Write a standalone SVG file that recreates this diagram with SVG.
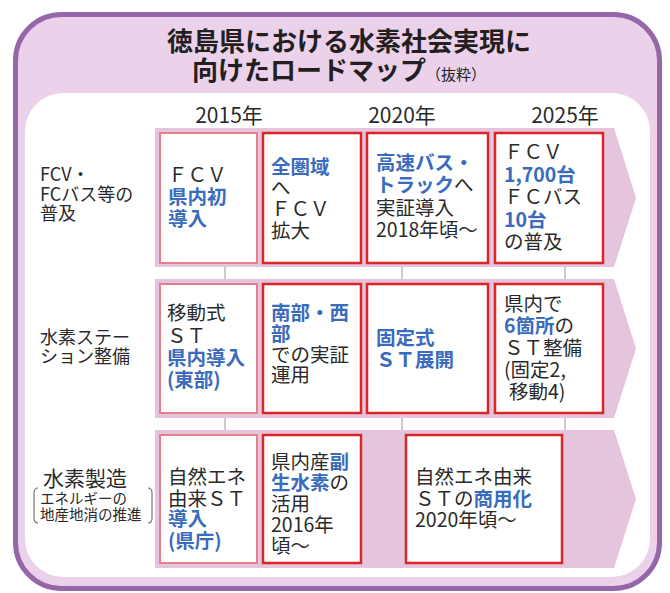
<svg xmlns="http://www.w3.org/2000/svg" width="670" height="593" viewBox="0 0 670 593">
<style>
text{font-family:"Noto Sans CJK JP","Noto Sans",sans-serif;}
.title{font-size:26px;font-weight:700;fill:#231f20;}
.yr{font-size:21px;fill:#2a2a2a;}
.lbl{font-size:18px;fill:#2a2a2a;}
.t{font-size:19.5px;fill:#2a2a2a;}
.b{fill:#3a6bbd;font-weight:700;}
.band{fill:#e5c5de;}
.box1{fill:#fff;stroke:#e6808a;stroke-width:2;}
.box{fill:#fff;stroke:#dc2626;stroke-width:2.5;}
.conn{stroke:#a9a9a9;stroke-width:1.2;}
</style>
<rect x="15.5" y="14.5" width="644" height="574" rx="46" fill="#ebd1e9" stroke="#9567a9" stroke-width="5"/>
<rect x="25" y="93" width="625" height="484" rx="38" fill="#ffffff"/>
<g id="title">
<text class="title" x="349" y="51" text-anchor="middle">徳島県における水素社会実現に</text>
<text class="title" x="192" y="80">向けたロードマップ<tspan font-size="15" font-weight="400">（抜粋）</tspan></text>
</g>
<g id="years">
<text class="yr" x="229" y="123" text-anchor="middle">2015年</text>
<text class="yr" x="402" y="123" text-anchor="middle">2020年</text>
<text class="yr" x="565" y="123" text-anchor="middle">2025年</text>
</g>
<g id="bands">
<polygon class="band" points="155,128 614,128 636,198 614,267 155,267"/>
<polygon class="band" points="155,279 614,279 636,348.5 614,418 155,418"/>
<polygon class="band" points="155,430 614,430 636,499 614,568 155,568"/>
</g>
<g id="connectors">
<line class="conn" x1="225" y1="267" x2="225" y2="279"/>
<line class="conn" x1="402" y1="267" x2="402" y2="279"/>
<line class="conn" x1="565" y1="267" x2="565" y2="279"/>
<line class="conn" x1="225" y1="418" x2="225" y2="430"/>
<line class="conn" x1="402" y1="418" x2="402" y2="430"/>
<line class="conn" x1="565" y1="418" x2="565" y2="430"/>
</g>
<g id="label-fcv">
<text class="lbl" x="40" y="181">FCV・</text>
<text class="lbl" x="40" y="201">FCバス等の</text>
<text class="lbl" x="40" y="220">普及</text>
</g>
<g id="label-st">
<text class="lbl" x="40" y="344">水素ステー</text>
<text class="lbl" x="40" y="362.5">ション整備</text>
</g>
<g id="label-prod">
<text x="43" y="486" font-size="21" fill="#2a2a2a">水素製造</text>
<text x="40" y="504" font-size="14.5" fill="#2a2a2a">エネルギーの</text>
<text x="40" y="520" font-size="14.5" fill="#2a2a2a">地産地消の推進</text>
<path d="M38,488 Q34,488 34,493 L34,518 Q34,523 38,523" fill="none" stroke="#777" stroke-width="1.2"/>
<path d="M148,488 Q152,488 152,493 L152,518 Q152,523 148,523" fill="none" stroke="#777" stroke-width="1.2"/>
</g>
<g id="r1c1">
<rect class="box1" x="160" y="133" width="97" height="130"/>
<text class="t" x="168" y="182">ＦＣＶ</text>
<text class="t b" x="168" y="204">県内初</text>
<text class="t b" x="168" y="226">導入</text>
</g>
<g id="r1c2">
<rect class="box" x="263" y="133" width="98" height="130"/>
<text class="t b" x="271" y="174">全圏域</text>
<text class="t" x="271" y="195">へ</text>
<text class="t" x="271" y="216">ＦＣＶ</text>
<text class="t" x="271" y="238">拡大</text>
</g>
<g id="r1c3">
<rect class="box" x="367" y="133" width="121" height="130"/>
<text class="t b" x="376" y="170">高速バス・</text>
<text class="t" x="376" y="192"><tspan class="b">トラック</tspan>へ</text>
<text class="t" x="376" y="215">実証導入</text>
<text class="t" x="376" y="237">2018年頃〜</text>
</g>
<g id="r1c4">
<rect class="box" x="495" y="133" width="108" height="130"/>
<text class="t" x="504" y="159">ＦＣＶ</text>
<text class="t b" x="504" y="181.5">1,700台</text>
<text class="t" x="504" y="204">ＦＣバス</text>
<text class="t b" x="504" y="226.5">10台</text>
<text class="t" x="504" y="249">の普及</text>
</g>
<g id="r2c1">
<rect class="box1" x="160" y="284" width="97" height="129"/>
<text class="t" x="167" y="320">移動式</text>
<text class="t" x="167" y="343">ＳＴ</text>
<text class="t b" x="167" y="365">県内導入</text>
<text class="t b" x="167" y="387">(東部)</text>
</g>
<g id="r2c2">
<rect class="box" x="263" y="284" width="98" height="129"/>
<text class="t b" x="271" y="320">南部・西</text>
<text class="t b" x="271" y="341">部</text>
<text class="t" x="271" y="361.5">での実証</text>
<text class="t" x="271" y="382">運用</text>
</g>
<g id="r2c3">
<rect class="box" x="367" y="284" width="121" height="129"/>
<text class="t b" x="376" y="345">固定式</text>
<text class="t b" x="376" y="367">ＳＴ展開</text>
</g>
<g id="r2c4">
<rect class="box" x="495" y="284" width="108" height="129"/>
<text class="t" x="504" y="311">県内で</text>
<text class="t" x="504" y="333"><tspan class="b">6箇所</tspan>の</text>
<text class="t" x="504" y="355">ＳＴ整備</text>
<text class="t" x="504" y="377">(固定2,</text>
<text class="t" x="509" y="399">移動4)</text>
</g>
<g id="r3c1">
<rect class="box1" x="160" y="435" width="97" height="128"/>
<text class="t" x="168" y="484">自然エネ</text>
<text class="t" x="168" y="506">由来ＳＴ</text>
<text class="t b" x="168" y="526">導入</text>
<text class="t b" x="168" y="548">(県庁)</text>
</g>
<g id="r3c2">
<rect class="box" x="263" y="435" width="98" height="128"/>
<text class="t" x="271" y="469">県内産<tspan class="b">副</tspan></text>
<text class="t" x="271" y="490"><tspan class="b">生水素</tspan>の</text>
<text class="t" x="271" y="511">活用</text>
<text class="t" x="271" y="532">2016年</text>
<text class="t" x="271" y="553">頃〜</text>
</g>
<g id="r3c3">
<rect class="box" x="406" y="435" width="156" height="128"/>
<text class="t" x="415" y="484">自然エネ由来</text>
<text class="t" x="415" y="506">ＳＴの<tspan class="b">商用化</tspan></text>
<text class="t" x="415" y="527">2020年頃〜</text>
</g>
</svg>
